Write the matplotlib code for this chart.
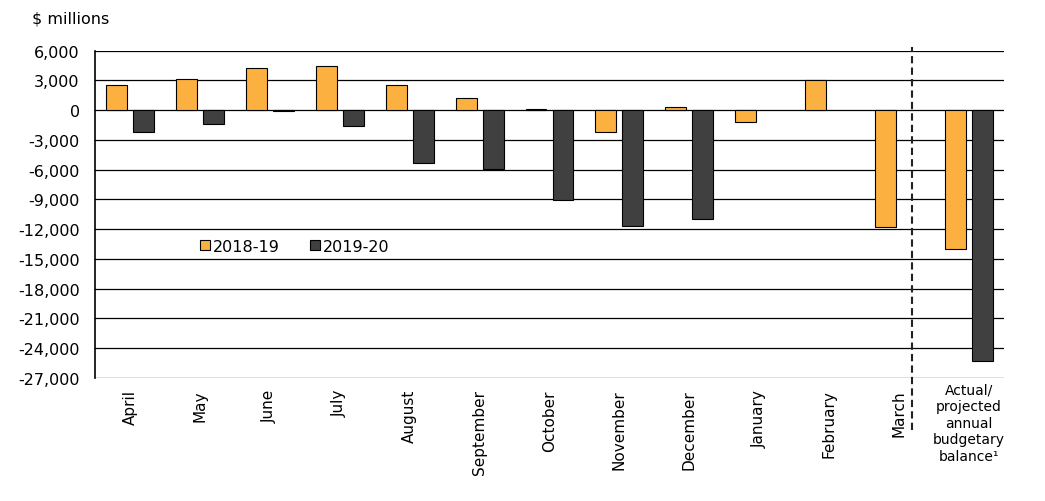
import numpy as np
import matplotlib
matplotlib.use('Agg')
import matplotlib.pyplot as plt
import matplotlib.transforms as mtransforms

plt.rcParams['font.family'] = ['DejaVu Sans']

# Categories and values ($ millions)
months = ['April', 'May', 'June', 'July', 'August', 'September', 'October',
          'November', 'December', 'January', 'February', 'March']
annual_label = 'Actual/\nprojected\nannual\nbudgetary\nbalance\u00b9'
fy_2018_19 = [2500, 3100, 4200, 4450, 2500, 1200, 100,
              -2200, 300, -1200, 3000, -11800, -14000]
fy_2019_20 = [-2200, -1400, -100, -1650, -5300, -5900, -9100,
              -11700, -11000, np.nan, np.nan, np.nan, -25300]
yticks = np.arange(-27000, 6001, 3000)

orange = '#FBB040'
dark = '#404040'

fig = plt.figure(figsize=(10.45, 5.02), dpi=100)
ax = fig.add_axes([95/1045, 1 - 379/502, 909/1045, (379 - 51.5)/502])

x = np.arange(len(fy_2018_19))
w = 0.3
off = 0.193
ax.bar(x - off, fy_2018_19, w, color=orange, edgecolor='black', linewidth=0.8,
       label='2018-19', zorder=3)
ax.bar(x + off, fy_2019_20, w, color=dark, edgecolor='black', linewidth=0.8,
       label='2019-20', zorder=3)

ax.set_xlim(-0.5, len(x) - 0.5)
ax.set_ylim(-27000, 6000)
ax.set_yticks(yticks)
ax.set_yticklabels([f'{v:,}' for v in yticks], fontsize=11.5)
ax.yaxis.grid(True, color='black', linewidth=0.9, zorder=0)
ax.set_axisbelow(True)
for s in ['top', 'right', 'bottom']:
    ax.spines[s].set_visible(False)
ax.spines['left'].set_linewidth(1.2)
ax.tick_params(axis='y', length=0, pad=11)
ax.tick_params(axis='x', length=0, pad=8)

# month labels are rotated; the annual one is written flat below its bars
ax.set_xticks(x[:-1])
ax.set_xticklabels(months, rotation=90, fontsize=11, va='top', ha='center')
trans = mtransforms.blended_transform_factory(ax.transData, ax.transAxes)
ax.text(x[-1], -0.015, annual_label, transform=trans, ha='center', va='top',
        fontsize=10, linespacing=1.22)

# separator between monthly and annual results
ax.plot([11.18, 11.18], [-32200, 6350], color='#222222', linewidth=1.5,
        linestyle=(0, (3.5, 2)), clip_on=False, zorder=4)

fig.text(32/1045, 1 - 19/502, '$ millions', fontsize=11.5, va='center')

ax.legend(loc='center left', bbox_to_anchor=(0.107, 0.403), ncol=2,
          frameon=False, fontsize=11.5, handlelength=0.63, handleheight=0.63,
          handletextpad=0.15, columnspacing=1.9, borderpad=0)

fig.savefig('out.png', dpi=100)
